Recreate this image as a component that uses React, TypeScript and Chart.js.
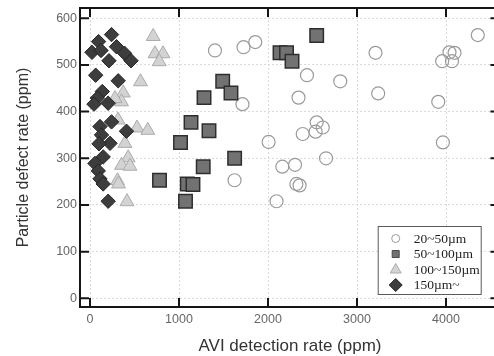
import React, { useEffect, useRef } from 'react';
import { Chart, registerables } from 'chart.js';

Chart.register(...registerables);

// ---- data ----
const xTicks = [0, 1000, 2000, 3000, 4000];
const yTicks = [0, 100, 200, 300, 400, 500, 600];
const xTitle = 'AVI detection rate (ppm)';
const yTitle = 'Particle defect rate (ppm)';
const seriesNames = ['20~50µm', '50~100µm', '100~150µm', '150µm~'];

const s1x = [1404, 1725, 1857, 2438, 2812, 3208, 3238, 4357, 4039, 4096, 3957, 4067, 3913, 3965, 1713, 2343, 2007, 2390, 2547, 2535, 2615, 2652, 2161, 2304, 1624, 2319, 2355, 2096];
const s1y = [531, 538, 549, 478, 465, 526, 439, 564, 527, 526, 508, 508, 421, 334, 416, 430, 335, 352, 377, 357, 366, 300, 282, 286, 253, 245, 242, 208];

const s2x = [2547, 2135, 2208, 2270, 1491, 1584, 1281, 1135, 1337, 1017, 1625, 1272, 781, 1093, 1157, 1073];
const s2y = [563, 526, 526, 508, 465, 440, 430, 377, 359, 334, 300, 282, 253, 245, 244, 208];

const s3x = [710, 730, 820, 778, 567, 374, 354, 281, 315, 528, 649, 393, 429, 354, 449, 309, 320, 416];
const s3y = [561, 524, 524, 507, 464, 440, 421, 428, 382, 365, 360, 332, 301, 285, 283, 252, 245, 207];

const s4x = [242, 96, 22, 124, 298, 213, 388, 461, 64, 317, 138, 82, 45, 204, 242, 112, 410, 129, 225, 101, 148, 56, 93, 112, 148, 204];
const s4y = [565, 550, 527, 531, 539, 509, 525, 509, 478, 466, 443, 429, 416, 418, 378, 368, 358, 350, 332, 331, 303, 289, 273, 256, 245, 208];

const zip = (xs: number[], ys: number[]) => xs.map((x, i) => ({ x, y: ys[i] }));

const styles = [
  { pointStyle: 'circle', radius: 6.5, bg: 'rgba(255,255,255,0)', border: '#9a9a9a', bw: 1.2 },
  { pointStyle: 'rect', radius: 9.5, bg: '#727272', border: '#2e2e2e', bw: 1.5 },
  { pointStyle: 'triangle', radius: 8, bg: '#d3d3d3', border: '#ababab', bw: 1 },
  { pointStyle: 'rectRot', radius: 7.2, bg: '#3d3d3d', border: '#262626', bw: 1 },
];

function drawMarker(ctx: CanvasRenderingContext2D, kind: number, x: number, y: number) {
  ctx.beginPath();
  if (kind === 0) {
    ctx.arc(x, y, 4, 0, Math.PI * 2);
    ctx.fillStyle = '#fff';
    ctx.strokeStyle = '#9a9a9a';
    ctx.lineWidth = 1;
  } else if (kind === 1) {
    ctx.rect(x - 3.5, y - 3.5, 7, 7);
    ctx.fillStyle = '#727272';
    ctx.strokeStyle = '#4a4a4a';
    ctx.lineWidth = 1;
  } else if (kind === 2) {
    ctx.moveTo(x, y - 6);
    ctx.lineTo(x + 5.5, y + 3.5);
    ctx.lineTo(x - 5.5, y + 3.5);
    ctx.closePath();
    ctx.fillStyle = '#d3d3d3';
    ctx.strokeStyle = '#ababab';
    ctx.lineWidth = 1;
  } else {
    ctx.moveTo(x - 6.5, y);
    ctx.lineTo(x, y - 6.5);
    ctx.lineTo(x + 6.5, y);
    ctx.lineTo(x, y + 6.5);
    ctx.closePath();
    ctx.fillStyle = '#3d3d3d';
    ctx.strokeStyle = '#262626';
    ctx.lineWidth = 1;
  }
  ctx.fill();
  ctx.stroke();
}

const framePlugin = {
  id: 'frameAndLegend',
  afterDraw(chart: any) {
    const { ctx, chartArea: a, scales } = chart;
    const xs = scales.x;
    const ys = scales.y;
    const T = 9;
    ctx.save();
    // frame
    ctx.strokeStyle = '#151515';
    ctx.lineWidth = 2;
    ctx.strokeRect(a.left, a.top, a.right - a.left, a.bottom - a.top);
    // inward ticks
    ctx.beginPath();
    xTicks.forEach((v) => {
      const p = xs.getPixelForValue(v);
      ctx.moveTo(p, a.bottom);
      ctx.lineTo(p, a.bottom - T);
      ctx.moveTo(p, a.top);
      ctx.lineTo(p, a.top + T);
    });
    yTicks.forEach((v) => {
      const p = ys.getPixelForValue(v);
      ctx.moveTo(a.left, p);
      ctx.lineTo(a.left + T, p);
      ctx.moveTo(a.right, p);
      ctx.lineTo(a.right - T, p);
    });
    ctx.stroke();

    // axis titles
    ctx.fillStyle = '#333';
    ctx.textAlign = 'center';
    ctx.textBaseline = 'middle';
    ctx.font = "17px 'Liberation Sans', Arial, sans-serif";
    ctx.fillText(xTitle, 290, a.bottom + 39);
    ctx.save();
    ctx.translate(24, (a.top + a.bottom) / 2);
    ctx.rotate(-Math.PI / 2);
    ctx.font = "16px 'Liberation Sans', Arial, sans-serif";
    ctx.fillText(yTitle, 0, 0);
    ctx.restore();

    // legend box
    const bx = 377.7;
    const by = a.bottom - 81;
    const bw = 103;
    const bh = 68;
    ctx.fillStyle = '#fff';
    ctx.fillRect(bx, by, bw, bh);
    ctx.strokeStyle = '#5a5a5a';
    ctx.lineWidth = 1;
    ctx.strokeRect(bx + 0.5, by + 0.5, bw, bh);
    ctx.font = "13.5px 'Liberation Serif', 'Times New Roman', serif";
    ctx.textAlign = 'left';
    ctx.textBaseline = 'middle';
    seriesNames.forEach((name, i) => {
      const cy = by + 12.5 + i * 15.5;
      drawMarker(ctx, i, bx + 18, cy);
      ctx.fillStyle = '#1e1e1e';
      ctx.fillText(name, bx + 36, cy + 0.5);
    });
    ctx.restore();
  },
};

export default function App() {
  const ref = useRef<HTMLCanvasElement>(null);
  useEffect(() => {
    Chart.defaults.font.family = "'Liberation Sans', Arial, sans-serif";
    const series = [zip(s1x, s1y), zip(s2x, s2y), zip(s3x, s3y), zip(s4x, s4y)];
    const chart = new Chart(ref.current as HTMLCanvasElement, {
      type: 'scatter',
      data: {
        datasets: series.map((d, i) => ({
          label: seriesNames[i],
          data: d,
          order: 3 - i,
          pointStyle: styles[i].pointStyle as any,
          pointRadius: styles[i].radius,
          pointHoverRadius: styles[i].radius,
          pointBackgroundColor: styles[i].bg,
          pointBorderColor: styles[i].border,
          pointBorderWidth: styles[i].bw,
          showLine: false,
        })),
      },
      options: {
        animation: false,
        responsive: true,
        maintainAspectRatio: false,
        devicePixelRatio: 1,
        layout: { autoPadding: false, padding: { top: 8, right: 2.6, left: 0, bottom: 0 } },
        plugins: { legend: { display: false }, tooltip: { enabled: false } },
        scales: {
          x: {
            type: 'linear',
            min: -112.4,
            max: 4600,
            afterBuildTicks: (s: any) => {
              s.ticks = xTicks.map((v) => ({ value: v }));
            },
            afterFit: (s: any) => {
              s.height = 49;
              s.paddingLeft = 0;
              s.paddingRight = 0;
            },
            grid: { color: '#dadada', drawTicks: false },
            border: { display: false, dash: [2, 2] },
            ticks: { color: '#666', font: { size: 12.5 }, padding: 5, callback: (v: any) => String(v) },
          },
          y: {
            type: 'linear',
            min: -18.6,
            max: 622,
            afterBuildTicks: (s: any) => {
              s.ticks = yTicks.map((v) => ({ value: v }));
            },
            afterFit: (s: any) => {
              s.width = 80;
              s.paddingTop = 0;
              s.paddingBottom = 0;
            },
            grid: { color: '#dadada', drawTicks: false },
            border: { display: false, dash: [2, 2] },
            ticks: { color: '#666', font: { size: 12.5 }, padding: 3, callback: (v: any) => String(v) },
          },
        },
      },
      plugins: [framePlugin],
    });
    return () => chart.destroy();
  }, []);
  return (
    <div
      style={{
        position: 'fixed',
        left: 0,
        top: 0,
        width: 494,
        height: 356,
        overflow: 'hidden',
        background: '#fff',
      }}
    >
      <div style={{ position: 'relative', width: 502, height: 356 }}>
        <canvas ref={ref} />
      </div>
    </div>
  );
}
